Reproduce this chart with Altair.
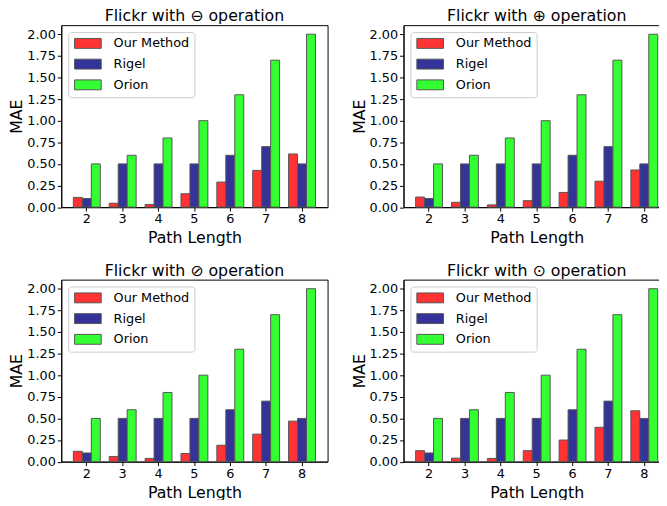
import altair as alt
import pandas as pd

lengths = [2, 3, 4, 5, 6, 7, 8]
methods = ["Our Method", "Rigel", "Orion"]
colors = ["#ff3333", "#333399", "#33ff33"]
panel_titles = [
    "Flickr with ⊖ operation",
    "Flickr with ⊕ operation",
    "Flickr with ⊘ operation",
    "Flickr with ⊙ operation",
]
ours_minus = [0.113, 0.045, 0.030, 0.155, 0.290, 0.425, 0.615]
ours_plus = [0.117, 0.056, 0.026, 0.075, 0.170, 0.300, 0.430]
ours_div = [0.120, 0.060, 0.037, 0.094, 0.190, 0.318, 0.468]
ours_dot = [0.127, 0.040, 0.037, 0.127, 0.250, 0.397, 0.588]
rigel = [0.10, 0.50, 0.50, 0.50, 0.60, 0.70, 0.50]
orion = [0.50, 0.60, 0.80, 1.00, 1.30, 1.70, 2.00]
y_ticks = [0.0, 0.25, 0.5, 0.75, 1.0, 1.25, 1.5, 1.75, 2.0]

FONT = "DejaVu Sans"


def panel(title, ours):
    df = pd.DataFrame({
        "length": lengths * 3,
        "method": [m for m in methods for _ in lengths],
        "value": ours + rigel + orion,
    })
    return (
        alt.Chart(df, title=alt.Title(title, fontSize=16, font=FONT, fontWeight="normal",
                                      color="black", offset=4, baseline="alphabetic", dy=16))
        .mark_bar(stroke="#555555", strokeWidth=1)
        .encode(
            x=alt.X("length:O", scale=alt.Scale(paddingInner=0.25, paddingOuter=0.3375),
                    axis=alt.Axis(title="Path Length", labelAngle=0, titlePadding=4)),
            xOffset=alt.XOffset("method:N", sort=methods,
                                scale=alt.Scale(domain=methods, paddingInner=0, paddingOuter=0)),
            y=alt.Y("value:Q", scale=alt.Scale(domain=[0, 2.105], nice=False, zero=True),
                    axis=alt.Axis(title="MAE", values=y_ticks, format=".2f", titlePadding=2)),
            color=alt.Color("method:N", sort=methods,
                            scale=alt.Scale(domain=methods, range=colors),
                            legend=alt.Legend(
                                title=None, orient="top-left", offset=7,
                                fillColor="white", strokeColor="#cccccc", cornerRadius=3,
                                padding=5, labelFont=FONT, labelFontSize=13, labelColor="black",
                                symbolType="M-1,-1H4.4V1H-1Z", symbolSize=100,
                                symbolStrokeColor="#555555", symbolStrokeWidth=1,
                                symbolOpacity=1, rowPadding=6, labelOffset=28)),
        )
        .properties(width=270, height=184.5)
    )


p1 = panel(panel_titles[0], ours_minus)
p2 = panel(panel_titles[1], ours_plus)
p3 = panel(panel_titles[2], ours_div)
p4 = panel(panel_titles[3], ours_dot)

top = alt.hconcat(p1, p2, spacing=22).resolve_scale(color="independent")
bottom = alt.hconcat(p3, p4, spacing=22).resolve_scale(color="independent")

chart = (
    alt.vconcat(top, bottom, spacing=16)
    .resolve_scale(color="independent")
    .properties(padding={"left": 0, "top": -4, "right": -12, "bottom": -4})
    .configure_view(stroke="black", strokeWidth=1)
    .configure_axis(
        grid=False, domainColor="black", tickColor="black", tickSize=4, labelPadding=2,
        labelFont=FONT, labelFontSize=13, labelColor="black",
        titleFont=FONT, titleFontSize=16, titleFontWeight="normal", titleColor="black",
    )
)

chart.save("out.html", embed_options={"renderer": "svg", "actions": False})
